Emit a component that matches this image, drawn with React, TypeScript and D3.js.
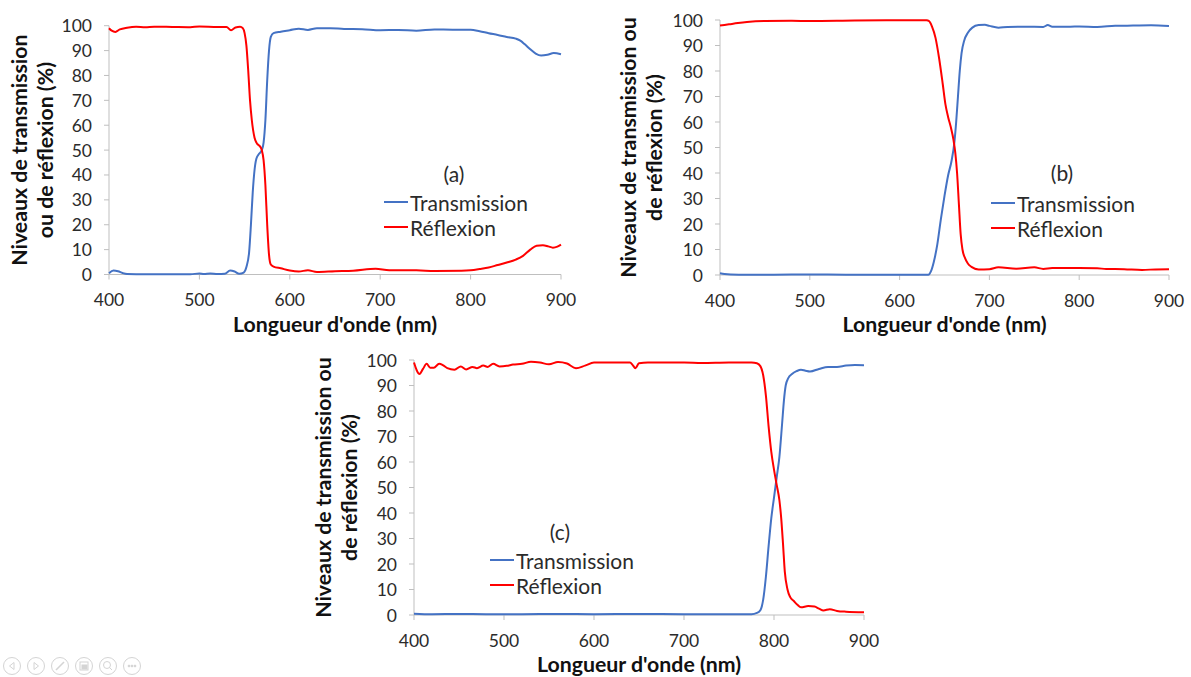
import React from 'react';
import * as d3 from 'd3';

// ---------- data ----------
const xTicks = [400, 500, 600, 700, 800, 900];
const yTicks = [0, 10, 20, 30, 40, 50, 60, 70, 80, 90, 100];
const seriesNames = ['Transmission', 'Réflexion'];

// Panel (a)
const transA: [number, number][] = [
  [400, 0.5], [405, 1.6], [410, 1.3], [415, 0.6], [420, 0.2], [440, 0.1], [470, 0.1], [490, 0.1],
  [500, 0.4], [505, 0.2], [512, 0.4], [520, 0.2], [528, 0.3], [534, 1.6], [539, 1.2], [544, 0.3],
  [549, 0.8], [552, 3], [555, 9], [557, 20], [559, 33], [561, 42], [563, 46.5], [566, 48.5],
  [569, 50], [571, 53], [573, 62], [575, 78], [577, 90], [579, 95.5], [582, 97], [590, 97.6],
  [600, 98.2], [610, 98.8], [620, 98.3], [630, 99], [645, 99], [660, 98.7], [680, 98.6],
  [700, 98.2], [720, 98.3], [740, 98], [760, 98.5], [780, 98.4], [800, 98.4], [810, 97.8],
  [820, 97], [830, 96.3], [840, 95.5], [850, 94.8], [855, 94], [860, 92.5], [866, 90.5],
  [872, 88.8], [878, 88], [885, 88.3], [892, 89], [900, 88.5]
];
const reflA: [number, number][] = [
  [400, 99], [403, 98], [407, 97.5], [412, 98.5], [420, 99.2], [430, 99.6], [440, 99.4],
  [450, 99.6], [470, 99.5], [490, 99.4], [500, 99.7], [520, 99.5], [530, 99.5], [535, 98.2],
  [540, 99.3], [545, 99.6], [548, 99], [550, 97], [552, 92], [554, 82], [556, 70], [558, 62],
  [561, 55], [564, 52.5], [567, 51.5], [569, 50], [571, 46], [573, 36], [575, 20], [577, 8],
  [579, 4], [582, 3.2], [590, 2.5], [600, 1.6], [610, 1.2], [620, 1.7], [630, 1.0], [650, 1.3],
  [670, 1.5], [695, 2.3], [710, 1.7], [740, 1.7], [760, 1.4], [790, 1.5], [800, 1.7], [810, 2.2],
  [820, 2.8], [830, 3.8], [840, 4.8], [850, 6], [858, 7.5], [866, 10], [873, 11.6], [880, 11.8],
  [886, 11.3], [891, 10.8], [896, 11.2], [900, 12]
];

// Panel (b)
const transB: [number, number][] = [
  [400, 0.7], [405, 0.4], [412, 0.2], [430, 0.1], [460, 0.1], [500, 0.2], [540, 0.1], [580, 0.1],
  [620, 0.1], [632, 0.1], [635, 1.5], [638, 5], [642, 12], [646, 22], [650, 31], [654, 39],
  [658, 45], [661, 52], [663, 60], [665, 70], [667, 80], [669, 87], [672, 92], [676, 95],
  [681, 97], [688, 98], [695, 98.1], [700, 97.7], [710, 97], [720, 97.3], [740, 97.4],
  [760, 97.3], [765, 98], [770, 97.4], [790, 97.4], [800, 97.5], [820, 97.3], [840, 97.7],
  [860, 97.8], [880, 97.9], [900, 97.6]
];
const reflB: [number, number][] = [
  [400, 97.8], [410, 98.3], [420, 98.8], [430, 99.2], [450, 99.6], [480, 99.7], [500, 99.6],
  [550, 99.8], [600, 99.9], [630, 99.9], [633, 99.5], [636, 97.5], [640, 93], [644, 85],
  [648, 75], [651, 67], [654, 62], [657, 58], [660, 53], [662, 48], [664, 40], [666, 28],
  [668, 16], [670, 10], [673, 6.5], [676, 4.5], [680, 3.2], [688, 2.2], [700, 2.3], [710, 3],
  [730, 2.5], [750, 3], [760, 2.4], [770, 2.7], [800, 2.7], [820, 2.6], [830, 2.4], [850, 2.3],
  [870, 2.0], [885, 2.2], [900, 2.3]
];

// Panel (c)
const transC: [number, number][] = [
  [400, 0.5], [420, 0.3], [450, 0.4], [480, 0.3], [520, 0.3], [560, 0.4], [600, 0.3],
  [650, 0.4], [700, 0.3], [750, 0.3], [775, 0.3], [781, 0.8], [785, 2], [788, 6], [791, 15],
  [794, 27], [797, 38], [800, 46], [803, 54], [806, 62], [809, 75], [811, 84], [813, 90],
  [816, 93], [820, 94.5], [825, 95.6], [830, 96.2], [835, 95.8], [840, 95.5], [850, 96.5],
  [860, 97.3], [870, 97.3], [880, 97.8], [890, 98], [900, 97.9]
];
const reflC: [number, number][] = [
  [400, 99], [403, 96], [406, 94.5], [410, 96.5], [414, 98.5], [418, 97], [422, 97], [428, 98.5],
  [432, 98], [437, 96.8], [445, 96.2], [452, 97.5], [458, 96.3], [465, 97.3], [470, 96.8],
  [477, 97.8], [482, 97.3], [488, 98.5], [495, 97.5], [503, 97.7], [510, 98.2], [520, 98.5],
  [530, 99.3], [540, 99], [550, 98.3], [560, 99.2], [570, 98.6], [580, 96.8], [590, 97.8],
  [600, 99], [620, 99], [640, 99], [643, 98], [646, 96.8], [650, 98.7], [660, 99], [680, 99],
  [700, 99], [720, 98.8], [750, 99], [775, 99], [781, 98.7], [785, 97.5], [788, 94], [791, 86],
  [794, 74], [797, 64], [800, 57], [803, 51], [806, 45], [808, 38], [810, 28], [812, 17], [815, 10],
  [818, 7], [822, 5.5], [826, 4], [830, 3], [838, 3.5], [845, 3.3], [850, 2.5], [855, 1.8],
  [862, 2.3], [870, 1.6], [880, 1.3], [900, 1.1]
];

const yTitleA = ['Niveaux de transmission', 'ou de réflexion (%)'];
const yTitleBC = ['Niveaux de transmission ou', 'de réflexion (%)'];
const xTitle = "Longueur d'onde (nm)";

// ---------- layout ----------
const FONT = 'Lato, "Open Sans", sans-serif';
const BLUE = '#4472C4';
const RED = '#FF0000';
const AXIS = '#BFBFBF';
const TICK_FS = 17.5;
const TITLE_FS = 21.3;
const LEG_FS = 21;

type Panel = {
  label: string;
  x0: number; x1: number; yTop: number; yBot: number;
  titleLines: string[]; titleX: number[];
  legX: number; legY: number; labX: number; labY: number;
  trans: [number, number][]; refl: [number, number][];
};

const panels: Panel[] = [
  { label: '(a)', x0: 109, x1: 561, yTop: 25.7, yBot: 274.5, titleLines: yTitleA, titleX: [19, 45],
    legX: 384, legY: 202, labX: 454, labY: 173, trans: transA, refl: reflA },
  { label: '(b)', x0: 720, x1: 1169, yTop: 20, yBot: 275, titleLines: yTitleBC, titleX: [628, 654],
    legX: 991, legY: 203, labX: 1062, labY: 172, trans: transB, refl: reflB },
  { label: '(c)', x0: 414, x1: 864, yTop: 360, yBot: 615, titleLines: yTitleBC, titleX: [323, 349],
    legX: 490, legY: 560, labX: 560, labY: 531, trans: transC, refl: reflC },
];

function ChartPanel({ p }: { p: Panel }) {
  const x = d3.scaleLinear().domain([400, 900]).range([p.x0, p.x1]);
  const y = d3.scaleLinear().domain([0, 100]).range([p.yBot, p.yTop]);
  const line = d3.line<[number, number]>().x(d => x(d[0])).y(d => y(d[1])).curve(d3.curveMonotoneX);
  const cy = (p.yTop + p.yBot) / 2;
  const cx = (p.x0 + p.x1) / 2;
  return (
    <g>
      <line x1={p.x0} x2={p.x0} y1={p.yTop} y2={p.yBot} stroke={AXIS} strokeWidth={1} />
      <line x1={p.x0} x2={p.x1} y1={p.yBot} y2={p.yBot} stroke={AXIS} strokeWidth={1} />
      {yTicks.map(t => (
        <g key={'y' + t}>
          <line x1={p.x0 - 5} x2={p.x0} y1={y(t)} y2={y(t)} stroke={AXIS} />
          <text x={p.x0 - 17} y={y(t)} textAnchor="end" dominantBaseline="central"
            fontFamily={FONT} fontSize={TICK_FS} fill="#2b2b2b">{t}</text>
        </g>
      ))}
      {xTicks.map(t => (
        <g key={'x' + t}>
          <line x1={x(t)} x2={x(t)} y1={p.yBot} y2={p.yBot + 5} stroke={AXIS} />
          <text x={x(t)} y={p.yBot + 25} textAnchor="middle" dominantBaseline="central"
            fontFamily={FONT} fontSize={TICK_FS} fill="#2b2b2b">{t}</text>
        </g>
      ))}
      <text x={cx} y={p.yBot + 49} textAnchor="middle" dominantBaseline="central"
        fontFamily={FONT} fontSize={TITLE_FS} fontWeight={700} fill="#111">{xTitle}</text>
      {p.titleLines.map((s, i) => (
        <text key={s} transform={`translate(${p.titleX[i]},${cy}) rotate(-90)`} textAnchor="middle"
          dominantBaseline="central" fontFamily={FONT} fontSize={TITLE_FS} fontWeight={700} fill="#111">{s}</text>
      ))}
      <path d={line(p.trans) ?? ''} fill="none" stroke={BLUE} strokeWidth={2} />
      <path d={line(p.refl) ?? ''} fill="none" stroke={RED} strokeWidth={2} />
      <text x={p.labX} y={p.labY} textAnchor="middle" dominantBaseline="central"
        fontFamily={FONT} fontSize={LEG_FS} fill="#2b2b2b">{p.label}</text>
      {seriesNames.map((s, i) => (
        <g key={s}>
          <line x1={p.legX} x2={p.legX + 24} y1={p.legY + i * 25} y2={p.legY + i * 25}
            stroke={i === 0 ? BLUE : RED} strokeWidth={2} />
          <text x={p.legX + 26} y={p.legY + i * 25} dominantBaseline="central"
            fontFamily={FONT} fontSize={LEG_FS} fill="#2b2b2b">{s}</text>
        </g>
      ))}
    </g>
  );
}

function Toolbar() {
  const cs = [12, 36, 60, 84, 108, 132];
  const c = '#d4d4d4';
  const yc = 666;
  return (
    <g stroke={c} fill="none" strokeWidth={1}>
      {cs.map(cx => <circle key={cx} cx={cx} cy={yc} r={8.5} />)}
      <path d={`M${cs[0] + 2},${yc - 3.5} L${cs[0] - 2.5},${yc} L${cs[0] + 2},${yc + 3.5} Z`} />
      <path d={`M${cs[1] - 2},${yc - 3.5} L${cs[1] + 2.5},${yc} L${cs[1] - 2},${yc + 3.5} Z`} />
      <path d={`M${cs[2] - 4},${yc + 4} L${cs[2] + 4},${yc - 4}`} strokeWidth={1.6} />
      <rect x={cs[3] - 4} y={yc - 4} width={8} height={8} />
      <rect x={cs[3] - 2} y={yc - 1} width={5} height={4} fill={c} />
      <circle cx={cs[4] - 1} cy={yc - 1} r={3.5} />
      <path d={`M${cs[4] + 1.5},${yc + 1.5} L${cs[4] + 4},${yc + 4}`} />
      {[-3, 0, 3].map(d => <circle key={d} cx={cs[5] + d} cy={yc} r={0.9} fill={c} />)}
    </g>
  );
}

export default function App() {
  return (
    <svg width={1191} height={677} style={{ position: 'absolute', left: 0, top: 0, background: '#fff' }}>
      {panels.map(p => <ChartPanel key={p.label} p={p} />)}
      <Toolbar />
    </svg>
  );
}
